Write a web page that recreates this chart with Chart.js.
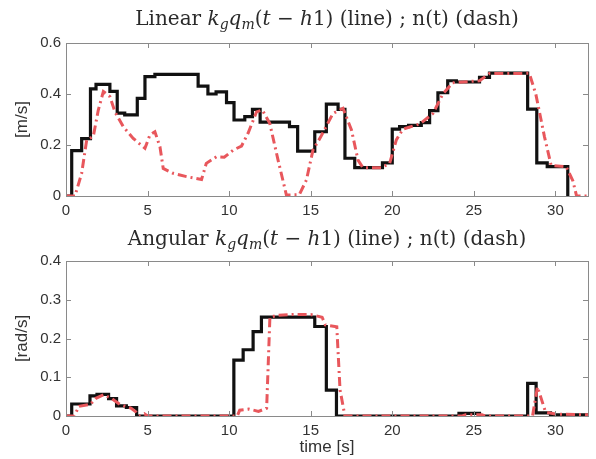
<!DOCTYPE html>
<html>
<head>
<meta charset="utf-8">
<script src="https://cdn.jsdelivr.net/npm/chart.js@4.4.1/dist/chart.umd.min.js"></script>
<style>
  body { margin: 0; background: #fff; }
  #wrap { position: relative; width: 596px; height: 459px; }
  canvas { position: absolute; left: 0; }
  #linChart { top: 0; }
  #angChart { top: 225px; }
</style>
</head>
<body>
<div id="wrap">
  <canvas id="linChart" width="596" height="225"></canvas>
  <canvas id="angChart" width="596" height="234"></canvas>
</div>
<script>
// Linear velocity: k_g q_m(t - h1) (stepped line)
const linLineT = [0, 0.35, 0.96, 1.5, 1.84, 2.69, 3.14, 3.6, 4.37, 4.84, 5.45, 8.1, 8.7, 9.2, 9.84, 10.3, 10.96, 11.43, 11.9, 13.7, 14.2, 15.25, 15.96, 16.68, 17.1, 17.7, 19.4, 20.0, 20.45, 21.0, 21.78, 22.29, 22.8, 23.4, 23.93, 25.35, 25.96, 28.3, 28.86, 29.5, 30.76, 30.8];
const linLineV = [0, 0.178, 0.225, 0.42, 0.438, 0.41, 0.325, 0.318, 0.383, 0.468, 0.477, 0.431, 0.4, 0.408, 0.366, 0.298, 0.311, 0.34, 0.29, 0.272, 0.176, 0.252, 0.36, 0.34, 0.148, 0.111, 0.13, 0.262, 0.272, 0.277, 0.288, 0.335, 0.405, 0.452, 0.447, 0.465, 0.482, 0.341, 0.13, 0.115, 0, 0];

// Linear velocity: n(t) (dash-dot)
const linDashT = [0, 0.55, 0.96, 1.27, 1.67, 1.98, 2.29, 2.69, 3.0, 3.51, 4.12, 4.84, 5.14, 5.45, 5.76, 5.96, 6.57, 7.39, 8.31, 8.6, 9.23, 9.7, 10.25, 10.76, 11.16, 11.68, 12.04, 12.49, 13.0, 13.51, 14.3, 14.74, 15.14, 15.6, 16.37, 16.98, 17.5, 17.9, 18.2, 19.33, 19.84, 20.25, 20.65, 21.7, 22.5, 23.1, 23.7, 25.35, 25.96, 28.4, 28.8, 29.33, 29.74, 30.66, 31.07, 31.3, 32];
const linDashV = [0, 0, 0.089, 0.22, 0.233, 0.337, 0.41, 0.39, 0.33, 0.272, 0.226, 0.187, 0.239, 0.252, 0.193, 0.108, 0.089, 0.076, 0.065, 0.128, 0.154, 0.152, 0.18, 0.196, 0.246, 0.33, 0.337, 0.285, 0.141, 0.004, 0.005, 0.063, 0.18, 0.23, 0.324, 0.344, 0.259, 0.141, 0.111, 0.111, 0.128, 0.22, 0.262, 0.283, 0.324, 0.40, 0.444, 0.452, 0.48, 0.481, 0.40, 0.233, 0.12, 0.115, 0.06, 0, 0];

// Angular velocity: k_g q_m(t - h1) (stepped line)
const angLineT = [0, 0.35, 1.47, 1.9, 2.61, 3.1, 3.7, 4.33, 10.29, 10.86, 11.47, 11.98, 15.25, 15.96, 16.58, 24.09, 25.35, 28.3, 28.82, 29.7, 32];
const angLineV = [0, 0.031, 0.052, 0.056, 0.045, 0.026, 0.022, 0, 0.144, 0.171, 0.218, 0.255, 0.231, 0.067, 0, 0.007, 0, 0.084, 0.008, 0.003, 0.003];

// Angular velocity: n(t) (dash-dot)
const angDashT = [0, 0.5, 0.8, 1.5, 1.8, 2.3, 2.8, 3.3, 4.0, 4.3, 4.5, 4.8, 5.0, 10.5, 10.65, 11.2, 11.8, 12.3, 12.5, 13.0, 14.0, 15.0, 15.7, 15.9, 16.6, 16.8, 17.1, 24.3, 24.5, 25.5, 25.7, 28.6, 28.9, 29.4, 30.0, 32];
const angDashV = [0, 0, 0.025, 0.03, 0.045, 0.055, 0.045, 0.03, 0.02, 0.01, 0, 0.006, 0, 0, 0.015, 0.018, 0.012, 0.02, 0.255, 0.26, 0.262, 0.262, 0.255, 0.235, 0.23, 0.067, 0, 0, 0.003, 0.003, 0, 0, 0.075, 0.01, 0.005, 0.003];

const xTicks = [0, 5, 10, 15, 20, 25, 30];

const linTitle = [
  ['Linear ', ''], ['k', 'i'], ['g', 'is'], ['q', 'i'], ['m', 'is'],
  ['(', ''], ['t', 'i'], [' \u2212 ', ''], ['h', 'i'], ['1) (line) ; n(t) (dash)', '']
];
const angTitle = [
  ['Angular ', ''], ['k', 'i'], ['g', 'is'], ['q', 'i'], ['m', 'is'],
  ['(', ''], ['t', 'i'], [' \u2212 ', ''], ['h', 'i'], ['1) (line) ; n(t) (dash)', '']
];

const pts = (t, v) => t.map((x, i) => ({ x: x, y: v[i] }));

// MATLAB-like box with inward ticks, plus the math title
const matlabFrame = {
  id: 'matlabFrame',
  afterDraw(chart, args, opts) {
    const ctx = chart.ctx;
    const a = chart.chartArea;
    const xs = chart.scales.x, ys = chart.scales.y;
    ctx.save();
    ctx.strokeStyle = '#8a8a8a';
    ctx.lineWidth = 1;
    ctx.strokeRect(Math.round(a.left) + 0.5, Math.round(a.top) + 0.5, Math.round(a.right - a.left), Math.round(a.bottom - a.top));
    ctx.beginPath();
    xs.ticks.forEach(t => {
      const px = Math.round(xs.getPixelForValue(t.value)) + 0.5;
      ctx.moveTo(px, a.bottom); ctx.lineTo(px, a.bottom - 5);
      ctx.moveTo(px, a.top); ctx.lineTo(px, a.top + 5);
    });
    ys.ticks.forEach(t => {
      const py = Math.round(ys.getPixelForValue(t.value)) + 0.5;
      ctx.moveTo(a.left, py); ctx.lineTo(a.left + 5, py);
      ctx.moveTo(a.right, py); ctx.lineTo(a.right - 5, py);
    });
    ctx.stroke();

    // title with italic math and subscripts
    const base = 20, sub = 14;
    const fam = '"DejaVu Serif", "Liberation Serif", serif';
    const fontFor = s => (s.indexOf('i') >= 0 ? 'italic ' : '') + (s.indexOf('s') >= 0 ? sub : base) + 'px ' + fam;
    let w = 0;
    opts.segments.forEach(([txt, st]) => { ctx.font = fontFor(st); w += ctx.measureText(txt).width; });
    let x = (a.left + a.right) / 2 - w / 2;
    ctx.fillStyle = '#2a2a2a';
    ctx.textBaseline = 'alphabetic';
    opts.segments.forEach(([txt, st]) => {
      ctx.font = fontFor(st);
      ctx.fillText(txt, x, opts.baseline + (st.indexOf('s') >= 0 ? 4 : 0));
      x += ctx.measureText(txt).width;
    });
    ctx.restore();
  }
};

const tickFont = { family: '"Liberation Sans", Arial, sans-serif', size: 15 };
const labelFont = { family: '"Liberation Sans", Arial, sans-serif', size: 17 };

function makeChart(id, lineData, dashData, yMax, yStep, yLabel, title, baseline, padTop, xH, xTitle) {
  return new Chart(document.getElementById(id), {
    type: 'line',
    data: {
      datasets: [{
        label: 'n(t)',
        data: dashData,
        borderColor: '#e8575c',
        borderWidth: 3,
        borderDash: [9, 4, 2, 4],
        pointRadius: 0,
        tension: 0,
        order: 0
      }, {
        label: 'kg qm(t - h1)',
        data: lineData,
        borderColor: '#111111',
        borderWidth: 3.2,
        stepped: 'before',
        pointRadius: 0,
        order: 1
      }]
    },
    options: {
      responsive: false,
      animation: false,
      layout: { padding: { top: padTop, right: 8, left: 0, bottom: 0 } },
      plugins: {
        legend: { display: false },
        tooltip: { enabled: false },
        matlabFrame: { segments: title, baseline: baseline }
      },
      scales: {
        x: {
          type: 'linear',
          min: 0, max: 32,
          afterBuildTicks: s => { s.ticks = xTicks.map(v => ({ value: v })); },
          afterFit: s => { s.height = xH; },
          grid: { display: false, drawTicks: false },
          border: { display: false },
          ticks: { font: tickFont, color: '#333', padding: 6, maxRotation: 0 },
          title: { display: !!xTitle, text: xTitle || '', font: labelFont, color: '#333', padding: { top: 0, bottom: 1 } }
        },
        y: {
          min: 0, max: yMax,
          afterFit: s => { s.width = 66; },
          grid: { display: false, drawTicks: false },
          border: { display: false },
          ticks: { stepSize: yStep, font: tickFont, color: '#333', padding: 5, callback: v => +v.toFixed(1) },
          title: { display: true, text: yLabel, font: labelFont, color: '#333', padding: { top: 12, bottom: 0 } }
        }
      }
    },
    plugins: [matlabFrame]
  });
}

makeChart('linChart', pts(linLineT, linLineV), pts(linDashT, linDashV), 0.6, 0.2, '[m/s]', linTitle, 25, 43, 29, null);
makeChart('angChart', pts(angLineT, angLineV), pts(angDashT, angDashV), 0.4, 0.1, '[rad/s]', angTitle, 20, 36, 43, 'time [s]');
</script>
</body>
</html>
